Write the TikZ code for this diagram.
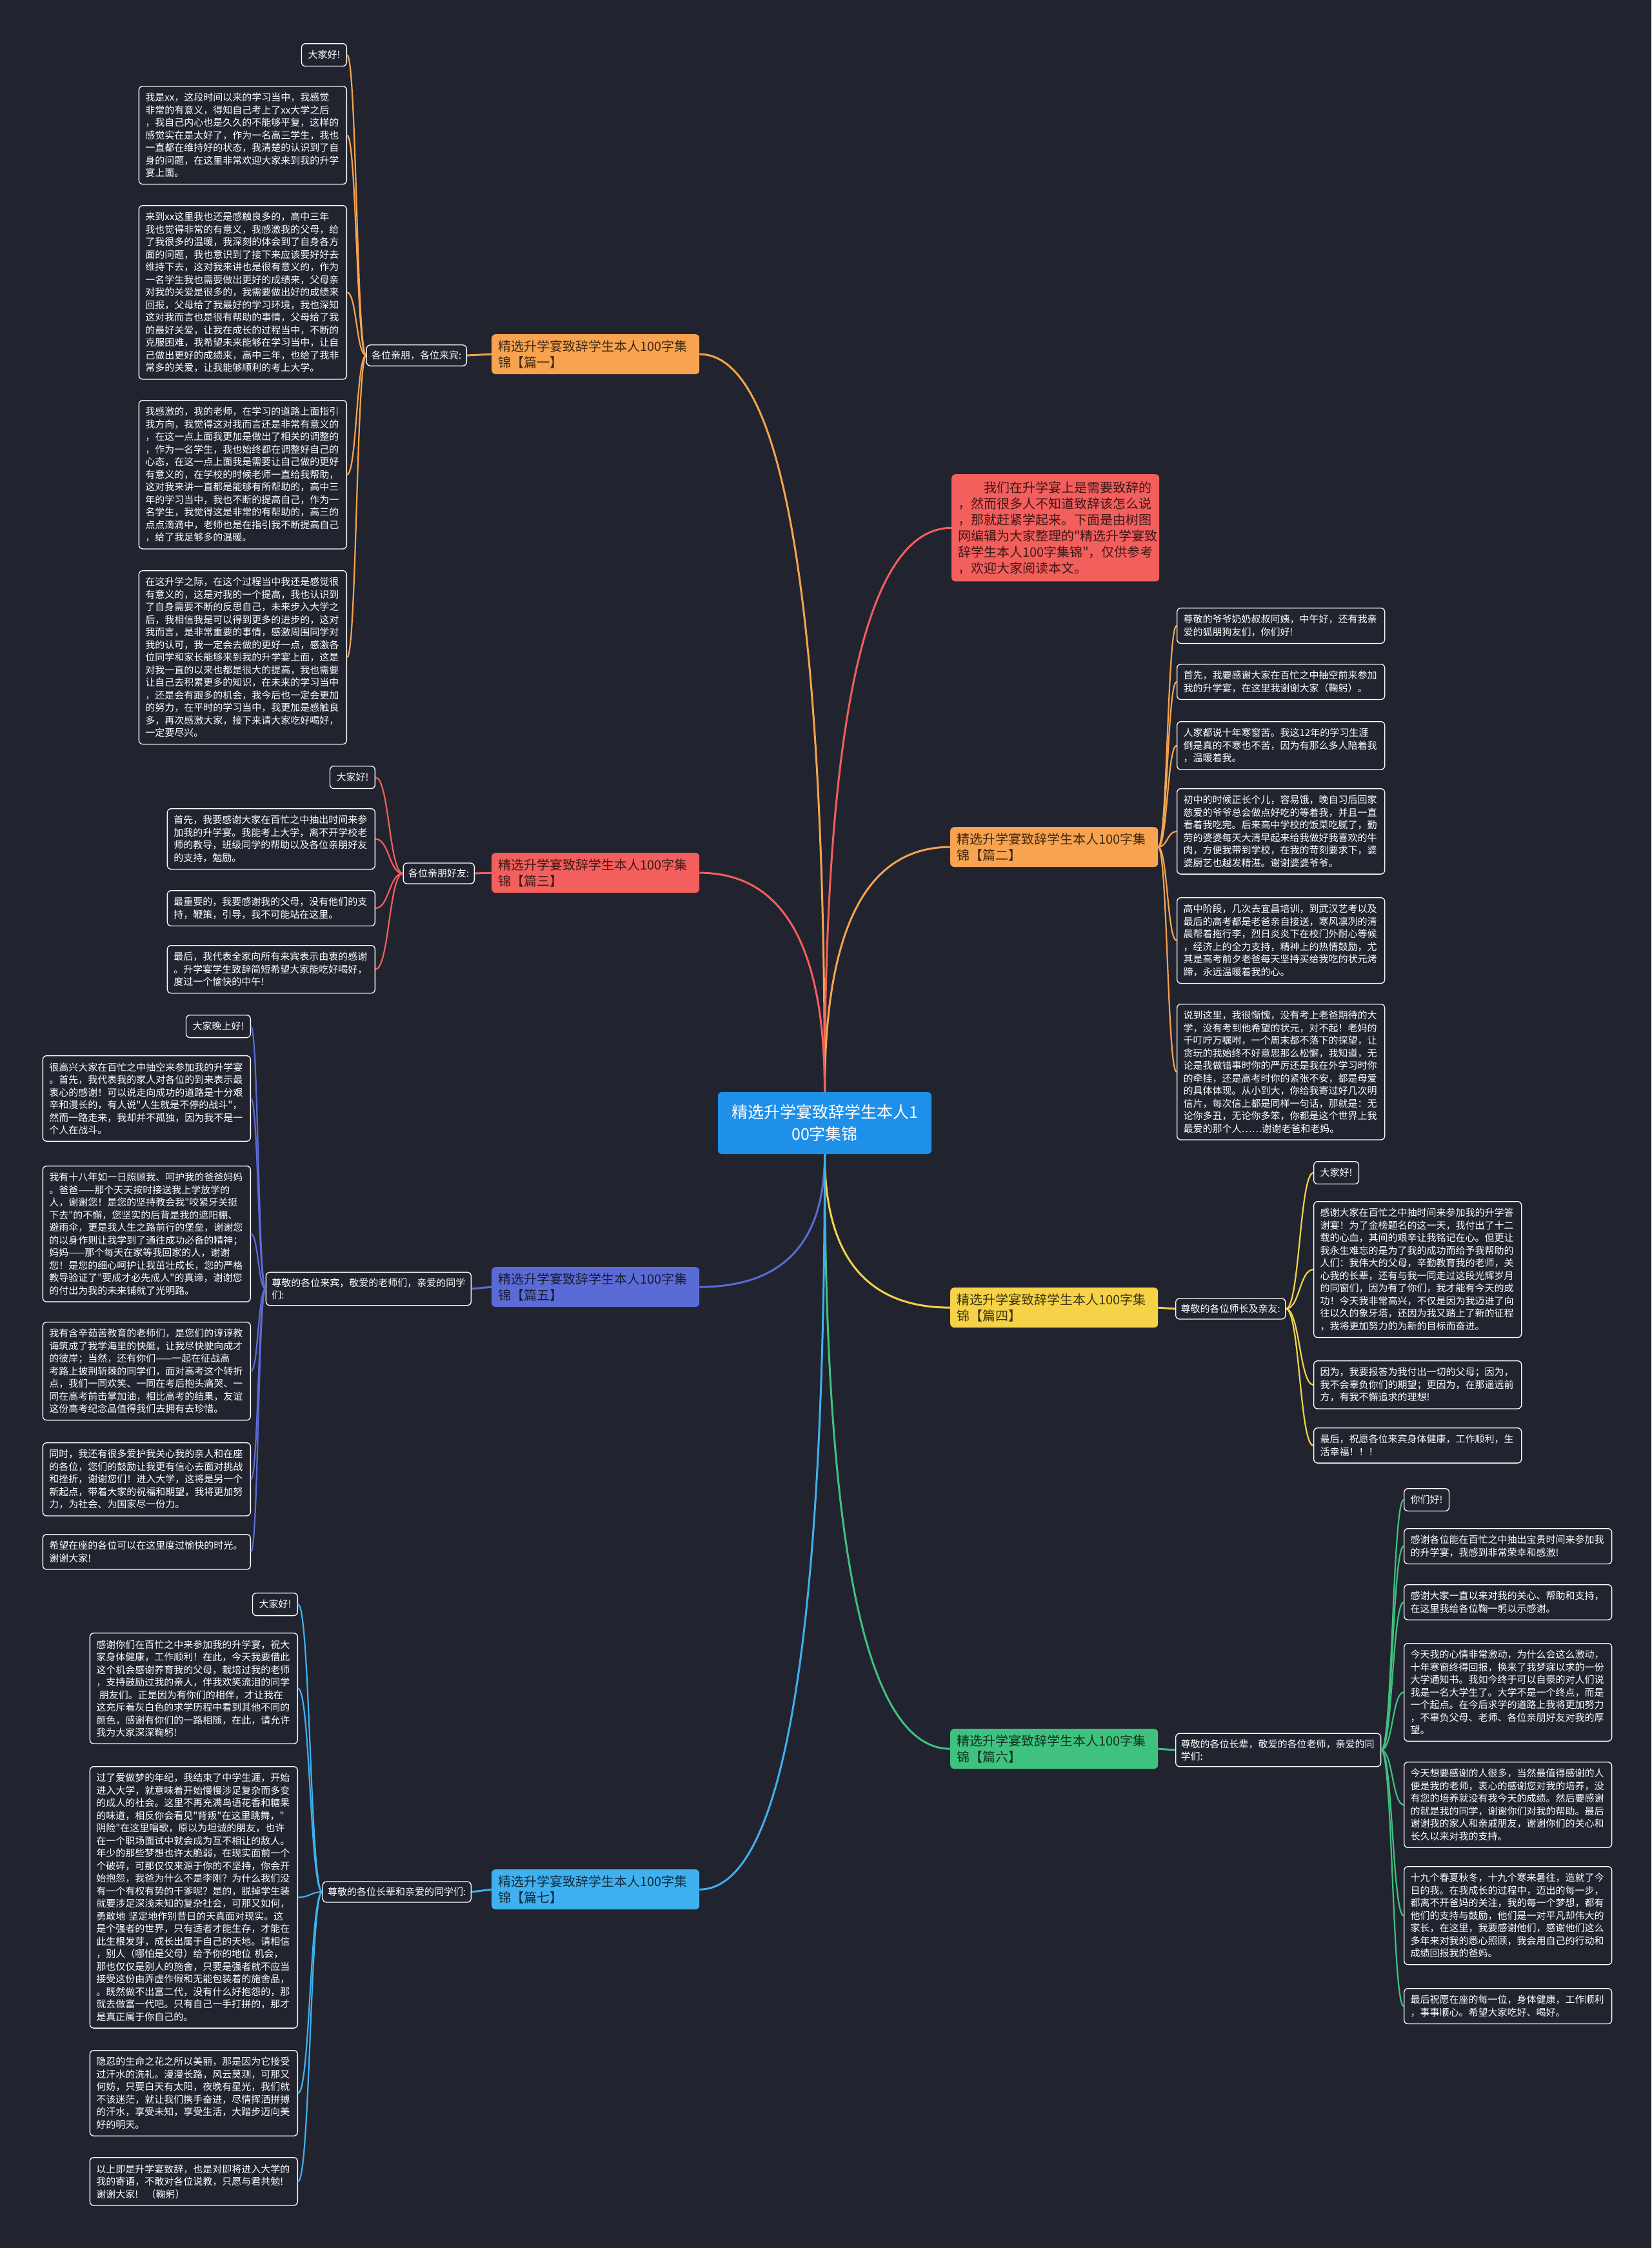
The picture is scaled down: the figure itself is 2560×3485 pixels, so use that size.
\documentclass[tikz,border=0pt]{standalone}
\usepackage{fontspec}
\newfontfamily\cjk{Noto Sans CJK SC}
\usetikzlibrary{calc}
\definecolor{bg}{HTML}{21242F}
\definecolor{cOr}{HTML}{F7A34F}
\definecolor{cRd}{HTML}{F25F5C}
\definecolor{cIn}{HTML}{5B6BD6}
\definecolor{cYe}{HTML}{F5D247}
\definecolor{cGr}{HTML}{3FC27F}
\definecolor{cLb}{HTML}{3FB0F0}
\definecolor{cCe}{HTML}{1E90E8}
\tikzset{
  leaf/.style={draw=white, line width=1.3pt, rounded corners=6pt, fill=bg, text=white,
    font=\cjk\fontsize{15}{19.5}\selectfont, align=left, inner xsep=10pt, inner ysep=10.5pt},
  leafw/.style={leaf, text width=302pt},
  sublab/.style={leaf, inner ysep=9pt, inner xsep=8pt},
  branch/.style={rounded corners=6pt, fill=#1, text=black!75!#1,
    font=\cjk\fontsize{20}{25}\selectfont, align=left, text width=302pt,
    inner xsep=10pt, inner ysep=9pt, anchor=north west},
  centre/.style={rounded corners=6pt, fill=cCe, text=white, font=\cjk\fontsize{25}{34}\selectfont,
    align=center, minimum width=331pt, minimum height=96pt, inner sep=0pt},
  mainline/.style={draw=#1, line width=3pt},
  leafline/.style={draw=#1, line width=2.2pt},
}
\newcommand\sconn[3]{\draw[#1] let \p1=(#2), \p2=(#3) in (\p1) .. controls ({\x1/2+\x2/2},\y1) and ({\x1/2+\x2/2},\y2) .. (\p2);}
\newcommand\cconn[3]{\draw[#1] let \p1=(#2), \p2=(#3) in (\p1) .. controls (\x1,{\y1/3+2*\y2/3}) and ({\x2/3+2*\x1/3},\y2) .. (\p2);}
\begin{document}
\begin{tikzpicture}[x=1pt,y=-1pt]
\fill[bg] (0,0) rectangle (2560,3485);
\useasboundingbox (0,0) rectangle (2560,3485);

% centre
\node[centre] (c) at (1278.5,1741) {精选升学宴致辞学生本人1\\00字集锦};

% branch nodes
\node[branch=cOr] (b1) at (762,518) {精选升学宴致辞学生本人100字集\\锦【篇一】};
\node[branch=cRd] (b3) at (762,1322) {精选升学宴致辞学生本人100字集\\锦【篇三】};
\node[branch=cIn] (b5) at (762,1964) {精选升学宴致辞学生本人100字集\\锦【篇五】};
\node[branch=cLb] (b7) at (762,2898) {精选升学宴致辞学生本人100字集\\锦【篇七】};
\node[branch=cRd, inner ysep=11pt] (intro) at (1475,735) {\hspace*{2em}我们在升学宴上是需要致辞的\\，然而很多人不知道致辞该怎么说\\，那就赶紧学起来。下面是由树图\\网编辑为大家整理的"精选升学宴致\\辞学生本人100字集锦"，仅供参考\\，欢迎大家阅读本文。};
\node[branch=cOr] (b2) at (1473,1282) {精选升学宴致辞学生本人100字集\\锦【篇二】};
\node[branch=cYe] (b4) at (1473,1996) {精选升学宴致辞学生本人100字集\\锦【篇四】};
\node[branch=cGr] (b6) at (1473,2680) {精选升学宴致辞学生本人100字集\\锦【篇六】};

% sub labels
\node[sublab, anchor=east] (s1) at (724,551) {各位亲朋，各位来宾:};
\node[sublab, anchor=east] (s3) at (736,1354) {各位亲朋好友:};
\node[sublab, anchor=east, text width=300pt, inner xsep=9pt] (s5) at (731,1998) {尊敬的各位来宾，敬爱的老师们，亲爱的同学\\们:};
\node[sublab, anchor=east] (s7) at (731,2933) {尊敬的各位长辈和亲爱的同学们:};
\node[sublab, anchor=west] (s4) at (1822,2029) {尊敬的各位师长及亲友:};
\node[sublab, anchor=west, text width=302pt] (s6) at (1822,2713) {尊敬的各位长辈，敬爱的各位老师，亲爱的同\\学们:};

% ---- 篇一 leaves
\node[leaf, anchor=north east] (l1a) at (538,67) {大家好!};
\node[leafw, anchor=north east] (l1b) at (538,133) {我是xx，这段时间以来的学习当中，我感觉\\非常的有意义，得知自己考上了xx大学之后\\，我自己内心也是久久的不能够平复，这样的\\感觉实在是太好了，作为一名高三学生，我也\\一直都在维持好的状态，我清楚的认识到了自\\身的问题，在这里非常欢迎大家来到我的升学\\宴上面。};
\node[leafw, anchor=north east] (l1c) at (538,318) {来到xx这里我也还是感触良多的，高中三年\\我也觉得非常的有意义，我感激我的父母，给\\了我很多的温暖，我深刻的体会到了自身各方\\面的问题，我也意识到了接下来应该要好好去\\维持下去，这对我来讲也是很有意义的，作为\\一名学生我也需要做出更好的成绩来，父母亲\\对我的关爱是很多的，我需要做出好的成绩来\\回报，父母给了我最好的学习环境，我也深知\\这对我而言也是很有帮助的事情，父母给了我\\的最好关爱，让我在成长的过程当中，不断的\\克服困难，我希望未来能够在学习当中，让自\\己做出更好的成绩来，高中三年，也给了我非\\常多的关爱，让我能够顺利的考上大学。};
\node[leafw, anchor=north east] (l1d) at (538,620) {我感激的，我的老师，在学习的道路上面指引\\我方向，我觉得这对我而言还是非常有意义的\\，在这一点上面我更加是做出了相关的调整的\\，作为一名学生，我也始终都在调整好自己的\\心态，在这一点上面我是需要让自己做的更好\\有意义的，在学校的时候老师一直给我帮助，\\这对我来讲一直都是能够有所帮助的，高中三\\年的学习当中，我也不断的提高自己，作为一\\名学生，我觉得这是非常的有帮助的，高三的\\点点滴滴中，老师也是在指引我不断提高自己\\，给了我足够多的温暖。};
\node[leafw, anchor=north east] (l1e) at (538,884) {在这升学之际，在这个过程当中我还是感觉很\\有意义的，这是对我的一个提高，我也认识到\\了自身需要不断的反思自己，未来步入大学之\\后，我相信我是可以得到更多的进步的，这对\\我而言，是非常重要的事情，感激周围同学对\\我的认可，我一定会去做的更好一点，感激各\\位同学和家长能够来到我的升学宴上面，这是\\对我一直的以来也都是很大的提高，我也需要\\让自己去积累更多的知识，在未来的学习当中\\，还是会有跟多的机会，我今后也一定会更加\\的努力，在平时的学习当中，我更加是感触良\\多，再次感激大家，接下来请大家吃好喝好，\\一定要尽兴。};

% ---- 篇三 leaves
\node[leaf, anchor=north east] (l3a) at (582,1187) {大家好!};
\node[leafw, anchor=north east] (l3b) at (582,1253) {首先，我要感谢大家在百忙之中抽出时间来参\\加我的升学宴。我能考上大学，离不开学校老\\师的教导，班级同学的帮助以及各位亲朋好友\\的支持，勉励。};
\node[leafw, anchor=north east] (l3c) at (582,1380) {最重要的，我要感谢我的父母，没有他们的支\\持，鞭策，引导，我不可能站在这里。};
\node[leafw, anchor=north east] (l3d) at (582,1465) {最后，我代表全家向所有来宾表示由衷的感谢\\。升学宴学生致辞简短希望大家能吃好喝好，\\度过一个愉快的中午!};

% ---- 篇五 leaves
\node[leaf, anchor=north east] (l5a) at (389,1573) {大家晚上好!};
\node[leafw, anchor=north east] (l5b) at (389,1636) {很高兴大家在百忙之中抽空来参加我的升学宴\\。首先，我代表我的家人对各位的到来表示最\\衷心的感谢！可以说走向成功的道路是十分艰\\辛和漫长的，有人说"人生就是不停的战斗"，\\然而一路走来，我却并不孤独，因为我不是一\\个人在战斗。};
\node[leafw, anchor=north east] (l5c) at (389,1807) {我有十八年如一日照顾我、呵护我的爸爸妈妈\\。爸爸——那个天天按时接送我上学放学的\\人，谢谢您！是您的坚持教会我"咬紧牙关挺\\下去"的不懈，您坚实的后背是我的遮阳棚、\\避雨伞，更是我人生之路前行的堡垒，谢谢您\\的以身作则让我学到了通往成功必备的精神；\\妈妈——那个每天在家等我回家的人，谢谢\\您！是您的细心呵护让我茁壮成长，您的严格\\教导验证了"要成才必先成人"的真谛，谢谢您\\的付出为我的未来铺就了光明路。};
\node[leafw, anchor=north east] (l5d) at (389,2049) {我有含辛茹苦教育的老师们，是您们的谆谆教\\诲筑成了我学海里的快艇，让我尽快驶向成才\\的彼岸；当然，还有你们——一起在征战高\\考路上披荆斩棘的同学们，面对高考这个转折\\点，我们一同欢笑、一同在考后抱头痛哭、一\\同在高考前击掌加油，相比高考的结果，友谊\\这份高考纪念品值得我们去拥有去珍惜。};
\node[leafw, anchor=north east] (l5e) at (389,2236) {同时，我还有很多爱护我关心我的亲人和在座\\的各位，您们的鼓励让我更有信心去面对挑战\\和挫折，谢谢您们！进入大学，这将是另一个\\新起点，带着大家的祝福和期望，我将更加努\\力，为社会、为国家尽一份力。};
\node[leafw, anchor=north east] (l5f) at (389,2378) {希望在座的各位可以在这里度过愉快的时光。\\谢谢大家!};

% ---- 篇七 leaves
\node[leaf, anchor=north east] (l7a) at (462,2469) {大家好!};
\node[leafw, anchor=north east] (l7b) at (462,2531) {感谢你们在百忙之中来参加我的升学宴，祝大\\家身体健康，工作顺利！在此，今天我要借此\\这个机会感谢养育我的父母，栽培过我的老师\\，支持鼓励过我的亲人，伴我欢笑流泪的同学\\\hspace*{0.3em}朋友们。正是因为有你们的相伴，才让我在\\这充斥着灰白色的求学历程中看到其他不同的\\颜色，感谢有你们的一路相随，在此，请允许\\我为大家深深鞠躬!};
\node[leafw, anchor=north east] (l7c) at (462,2738) {过了爱做梦的年纪，我结束了中学生涯，开始\\进入大学，就意味着开始慢慢涉足复杂而多变\\的成人的社会。这里不再充满鸟语花香和糖果\\的味道，相反你会看见"背叛"在这里跳舞，"\\阴险"在这里唱歌，原以为坦诚的朋友，也许\\在一个职场面试中就会成为互不相让的敌人。\\年少的那些梦想也许太脆弱，在现实面前一个\\个破碎，可那仅仅来源于你的不坚持，你会开\\始抱怨，我爸为什么不是李刚？为什么我们没\\有一个有权有势的干爹呢？是的，脱掉学生装\\就要涉足深浅未知的复杂社会，可那又如何，\\勇敢地 坚定地作别昔日的天真面对现实。这\\是个强者的世界，只有适者才能生存，才能在\\此生根发芽，成长出属于自己的天地。请相信\\，别人（哪怕是父母）给予你的地位 机会，\\那也仅仅是别人的施舍，只要是强者就不应当\\接受这份由弄虚作假和无能包装着的施舍品，\\。既然做不出富二代，没有什么好抱怨的，那\\就去做富一代吧。只有自己一手打拼的，那才\\是真正属于你自己的。};
\node[leafw, anchor=north east] (l7d) at (462,3178) {隐忍的生命之花之所以美丽，那是因为它接受\\过汗水的洗礼。漫漫长路，风云莫测，可那又\\何妨，只要白天有太阳，夜晚有星光，我们就\\不该迷茫，就让我们携手奋进，尽情挥洒拼搏\\的汗水，享受未知，享受生活，大踏步迈向美\\好的明天。};
\node[leafw, anchor=north east] (l7e) at (462,3344) {以上即是升学宴致辞，也是对即将进入大学的\\我的寄语，不敢对各位说教，只愿与君共勉!\\谢谢大家! \ （鞠躬）};

% ---- 篇二 leaves
\node[leafw, anchor=north west] (l2a) at (1824,942) {尊敬的爷爷奶奶叔叔阿姨，中午好，还有我亲\\爱的狐朋狗友们，你们好!};
\node[leafw, anchor=north west] (l2b) at (1824,1029) {首先，我要感谢大家在百忙之中抽空前来参加\\我的升学宴，在这里我谢谢大家（鞠躬）。};
\node[leafw, anchor=north west] (l2c) at (1824,1118) {人家都说十年寒窗苦。我这12年的学习生涯\\倒是真的不寒也不苦，因为有那么多人陪着我\\，温暖着我。};
\node[leafw, anchor=north west] (l2d) at (1824,1222) {初中的时候正长个儿，容易饿，晚自习后回家\\慈爱的爷爷总会做点好吃的等着我，并且一直\\看着我吃完。后来高中学校的饭菜吃腻了，勤\\劳的婆婆每天大清早起来给我做好我喜欢的牛\\肉，方便我带到学校，在我的苛刻要求下，婆\\婆厨艺也越发精湛。谢谢婆婆爷爷。};
\node[leafw, anchor=north west] (l2e) at (1824,1391) {高中阶段，几次去宜昌培训，到武汉艺考以及\\最后的高考都是老爸亲自接送，寒风凛冽的清\\晨帮着拖行李，烈日炎炎下在校门外耐心等候\\，经济上的全力支持，精神上的热情鼓励，尤\\其是高考前夕老爸每天坚持买给我吃的状元烤\\蹄，永远温暖着我的心。};
\node[leafw, anchor=north west] (l2f) at (1824,1556) {说到这里，我很惭愧，没有考上老爸期待的大\\学，没有考到他希望的状元，对不起！老妈的\\千叮咛万嘱咐，一个周末都不落下的探望，让\\贪玩的我始终不好意思那么松懈，我知道，无\\论是我做错事时你的严厉还是我在外学习时你\\的牵挂，还是高考时你的紧张不安，都是母爱\\的具体体现。从小到大，你给我寄过好几次明\\信片，每次信上都是同样一句话，那就是：无\\论你多丑，无论你多笨，你都是这个世界上我\\最爱的那个人……谢谢老爸和老妈。};

% ---- 篇四 leaves
\node[leaf, anchor=north west] (l4a) at (2036,1800) {大家好!};
\node[leafw, anchor=north west] (l4b) at (2036,1862) {感谢大家在百忙之中抽时间来参加我的升学答\\谢宴！为了金榜题名的这一天，我付出了十二\\载的心血，其间的艰辛让我铭记在心。但更让\\我永生难忘的是为了我的成功而给予我帮助的\\人们：我伟大的父母，辛勤教育我的老师，关\\心我的长辈，还有与我一同走过这段光辉岁月\\的同窗们，因为有了你们，我才能有今天的成\\功！今天我非常高兴，不仅是因为我迈进了向\\往以久的象牙塔，还因为我又踏上了新的征程\\，我将更加努力的为新的目标而奋进。};
\node[leafw, anchor=north west] (l4c) at (2036,2109) {因为，我要报答为我付出一切的父母；因为，\\我不会辜负你们的期望；更因为，在那遥远前\\方，有我不懈追求的理想!};
\node[leafw, anchor=north west] (l4d) at (2036,2213) {最后，祝愿各位来宾身体健康，工作顺利，生\\活幸福！！！};

% ---- 篇六 leaves
\node[leaf, anchor=north west] (l6a) at (2176,2307) {你们好!};
\node[leafw, anchor=north west] (l6b) at (2176,2369) {感谢各位能在百忙之中抽出宝贵时间来参加我\\的升学宴，我感到非常荣幸和感激!};
\node[leafw, anchor=north west] (l6c) at (2176,2456) {感谢大家一直以来对我的关心、帮助和支持，\\在这里我给各位鞠一躬以示感谢。};
\node[leafw, anchor=north west] (l6d) at (2176,2547) {今天我的心情非常激动，为什么会这么激动，\\十年寒窗终得回报，换来了我梦寐以求的一份\\大学通知书。我如今终于可以自豪的对人们说\\我是一名大学生了。大学不是一个终点，而是\\一个起点。在今后求学的道路上我将更加努力\\，不辜负父母、老师、各位亲朋好友对我的厚\\望。};
\node[leafw, anchor=north west] (l6e) at (2176,2731) {今天想要感谢的人很多，当然最值得感谢的人\\便是我的老师，衷心的感谢您对我的培养，没\\有您的培养就没有我今天的成绩。然后要感谢\\的就是我的同学，谢谢你们对我的帮助。最后\\谢谢我的家人和亲戚朋友，谢谢你们的关心和\\长久以来对我的支持。};
\node[leafw, anchor=north west] (l6f) at (2176,2893) {十九个春夏秋冬，十九个寒来暑往，造就了今\\日的我。在我成长的过程中，迈出的每一步，\\都离不开爸妈的关注，我的每一个梦想，都有\\他们的支持与鼓励，他们是一对平凡却伟大的\\家长，在这里，我要感谢他们，感谢他们这么\\多年来对我的悉心照顾，我会用自己的行动和\\成绩回报我的爸妈。};
\node[leafw, anchor=north west] (l6g) at (2176,3082) {最后祝愿在座的每一位，身体健康，工作顺利\\，事事顺心。希望大家吃好、喝好。};

% ---- centre connectors
\cconn{mainline=cOr}{c.north}{b1.east}
\cconn{mainline=cRd}{c.north}{intro.west}
\cconn{mainline=cOr}{c.north}{b2.west}
\cconn{mainline=cRd}{c.north}{b3.east}
\cconn{mainline=cIn}{c.south}{b5.east}
\cconn{mainline=cYe}{c.south}{b4.west}
\cconn{mainline=cGr}{c.south}{b6.west}
\cconn{mainline=cLb}{c.south}{b7.east}

% ---- branch to sub-label
\draw[mainline=cOr] (b1.west) -- (s1.east);
\draw[mainline=cRd] (b3.west) -- (s3.east);
\draw[mainline=cIn] (b5.west) -- (s5.east);
\draw[mainline=cLb] (b7.west) -- (s7.east);
\draw[mainline=cYe] (b4.east) -- (s4.west);
\draw[mainline=cGr] (b6.east) -- (s6.west);

% ---- leaf connectors
\foreach \l in {l1a,l1b,l1c,l1d,l1e}{\sconn{leafline=cOr}{s1.west}{\l.east}}
\foreach \l in {l3a,l3b,l3c,l3d}{\sconn{leafline=cRd}{s3.west}{\l.east}}
\foreach \l in {l5a,l5b,l5c,l5d,l5e,l5f}{\sconn{leafline=cIn}{s5.west}{\l.east}}
\foreach \l in {l7a,l7b,l7c,l7d,l7e}{\sconn{leafline=cLb}{s7.west}{\l.east}}
\foreach \l in {l2a,l2b,l2c,l2d,l2e,l2f}{\sconn{leafline=cOr}{b2.east}{\l.west}}
\foreach \l in {l4a,l4b,l4c,l4d}{\sconn{leafline=cYe}{s4.east}{\l.west}}
\foreach \l in {l6a,l6b,l6c,l6d,l6e,l6f,l6g}{\sconn{leafline=cGr}{s6.east}{\l.west}}
\end{tikzpicture}
\end{document}
